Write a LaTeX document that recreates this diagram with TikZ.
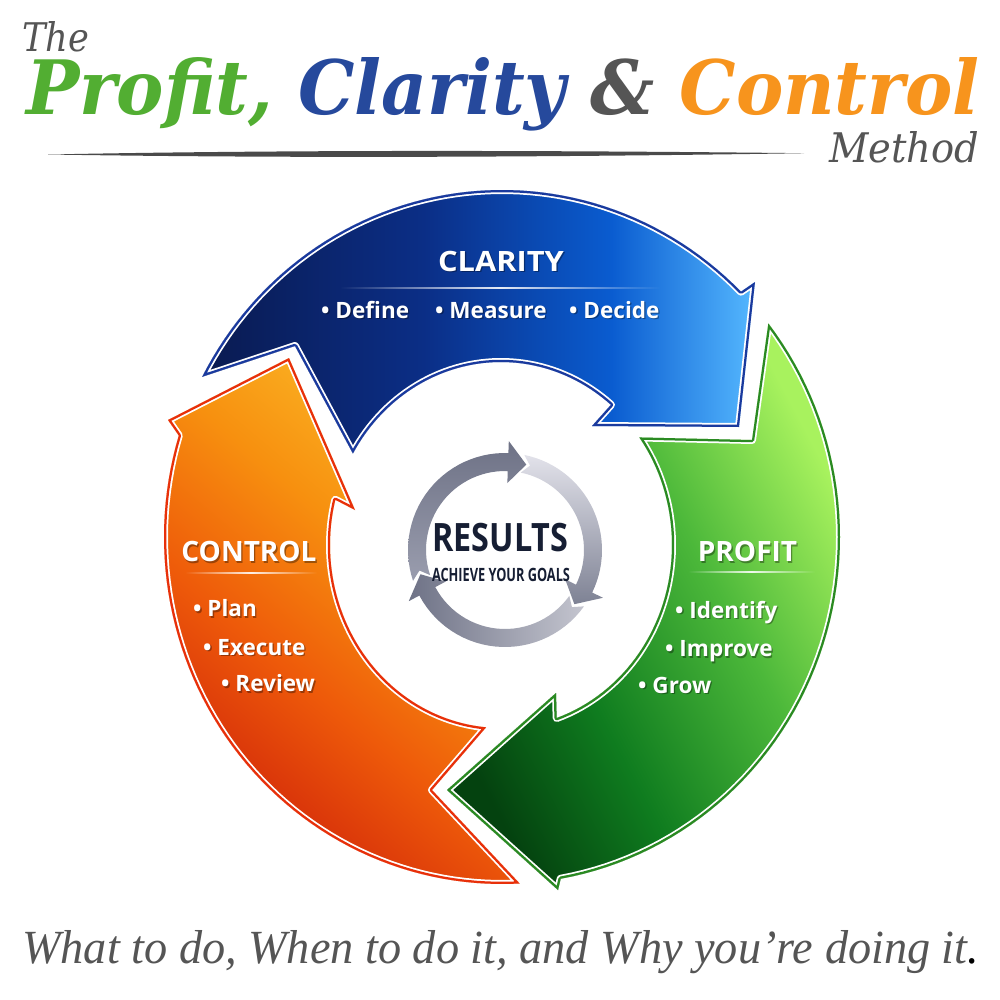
\documentclass[tikz,border=0pt]{standalone}
\usepackage{graphicx}
\usepackage{fontspec}
\setmainfont{Liberation Serif}
\newfontfamily\osans{Open Sans}
\newfontfamily\dserif{DejaVu Serif}
\usetikzlibrary{fadings}
\definecolor{tgreen}{HTML}{52AE32}
\definecolor{tblue}{HTML}{26499C}
\definecolor{tgray}{HTML}{555555}
\definecolor{torange}{HTML}{F7941D}
\definecolor{swoosh}{HTML}{4A4A4A}
\definecolor{bluebord}{HTML}{1A3A9E}
\definecolor{greenbord}{HTML}{2A8A22}
\definecolor{orangebord}{HTML}{E8300A}
\definecolor{resnavy}{HTML}{161E33}
\definecolor{bA}{HTML}{0A1A50}
\definecolor{bB}{HTML}{0B2E86}
\definecolor{bC}{HTML}{0A5CD0}
\definecolor{bD}{HTML}{55B8FF}
\definecolor{gA}{HTML}{04420F}
\definecolor{gB}{HTML}{0F7C1F}
\definecolor{gC}{HTML}{4CB83A}
\definecolor{gD}{HTML}{A8F25E}
\definecolor{oA}{HTML}{D0240A}
\definecolor{oB}{HTML}{EE5A0A}
\definecolor{oC}{HTML}{F7900F}
\definecolor{oD}{HTML}{FCBB28}
\definecolor{ringdark}{HTML}{6E7286}
\definecolor{ringmid}{HTML}{9A9DAE}
\definecolor{ringlight}{HTML}{E2E2EA}
\definecolor{ringdarkb}{HTML}{7E8294}
\definecolor{ringlightb}{HTML}{C4C5CF}
\pgfdeclarehorizontalshading{blueshade}{100bp}{color(0bp)=(bA); color(25bp)=(bA); color(45bp)=(bB); color(62bp)=(bC); color(75bp)=(bD); color(100bp)=(bD)}
\pgfdeclarehorizontalshading{greenshade}{100bp}{color(0bp)=(gA); color(25bp)=(gA); color(40bp)=(gB); color(58bp)=(gC); color(75bp)=(gD); color(100bp)=(gD)}
\pgfdeclarehorizontalshading{orangeshade}{100bp}{color(0bp)=(oA); color(25bp)=(oA); color(42bp)=(oB); color(58bp)=(oC); color(75bp)=(oD); color(100bp)=(oD)}
\tikzfading[name=fadesides, left color=transparent!100, right color=transparent!100, middle color=transparent!10]
\newcommand\pathBlue{({502+338*cos(152.5)},{537-347*sin(152.5)})
 -- plot[domain=152.5:45, samples=60] ({502+338*cos(\x)},{537-347*sin(\x)})
 -- (755,282) -- (739,427) -- (592,426)
 -- plot[domain=50:150, samples=50] ({501+171*cos(\x)},{545-183*sin(\x)})
 -- (295,346) -- cycle}
\newcommand\pathGreen{({502+338*cos(38)},{537-347*sin(38)})
 -- plot[domain=38:-80, samples=60] ({502+338*cos(\x)},{537-347*sin(\x)})
 -- (558,890) -- (447,790) -- (556,693)
 -- plot[domain=-71:36, samples=50] ({501+171*cos(\x)},{545-183*sin(\x)})
 -- (752,440) -- cycle}
\newcommand\pathOrange{({502+338*cos(-87)},{537-347*sin(-87)})
 -- plot[domain=-87:-197, samples=60] ({502+338*cos(\x)},{537-347*sin(\x)})
 -- (168,420) -- (289,358) -- (355,510)
 -- plot[domain=-194.3:-95, samples=50] ({501+171*cos(\x)},{545-183*sin(\x)})
 -- (432,790) -- cycle}
\newcommand\ringseg[2]{({505+97*cos(#2+2.5)},{550-97*sin(#2+2.5)})
 -- plot[domain={#2+2.5}:{#1+12}, samples=30] ({505+97*cos(\x)},{550-97*sin(\x)})
 -- ({505+109*cos(#1+12)},{550-109*sin(#1+12)})
 -- ({505+88*cos(#1)},{550-88*sin(#1)})
 -- ({505+67*cos(#1+12)},{550-67*sin(#1+12)})
 -- plot[domain={#1+12}:{#2+2.5}, samples=30] ({505+79*cos(\x)},{550-79*sin(\x)})
 -- ({505+88*cos(#2-2.5)},{550-88*sin(#2-2.5)}) -- cycle}
\newcommand\shtext[5]{%
 \node[#2, text=black, opacity=0.35] (#1s) at (#3+1.3,#4+1.8) {#5};
 \node[#2] (#1) at (#3,#4) {#5};}
\begin{document}
\begin{tikzpicture}[x=1pt,y=-1pt,
 lbl/.style={font=\osans\bfseries\fontsize{28}{30}\selectfont, text=white, inner sep=0pt, anchor=base},
 itm/.style={font=\osans\bfseries\fontsize{22.5}{24}\selectfont, text=white, inner sep=0pt, anchor=base west},
 ttl/.style={inner sep=0pt, anchor=base west}]
\useasboundingbox (0,0) rectangle (1000,1000);
\fill[white] (0,0) rectangle (1000,1000);

% ---------- title ----------
\node[ttl, text=tgray] (the) at (22,52) {\resizebox{67pt}{30pt}{\dserif\itshape The}};
\node[ttl] (title) at (26,115) {\resizebox{953pt}{57pt}{\dserif\bfseries\itshape
 \textcolor{tgreen}{Profit,} \textcolor{tblue}{Clarity} \textcolor{tgray}{\&} \textcolor{torange}{Control}}};
\fill[swoosh] (48,154.5) .. controls (300,149.5) and (560,150.5) .. (804,153.2)
 .. controls (560,157) and (300,158.5) .. cycle;
\node[ttl, text=tgray] (method) at (829,163) {\resizebox{150pt}{31pt}{\dserif\itshape Method}};

% ---------- arrows ----------
\shade[shading=blueshade] \pathBlue;
\begin{scope}
 \clip \pathBlue;
 \draw[white, line width=8pt, line join=round] \pathBlue;
 \draw[bluebord, line width=4.5pt, line join=round] \pathBlue;
\end{scope}
\shade[shading=greenshade, shading angle=28] \pathGreen;
\begin{scope}
 \clip \pathGreen;
 \draw[white, line width=8pt, line join=round] \pathGreen;
 \draw[greenbord, line width=4.5pt, line join=round] \pathGreen;
\end{scope}
\shade[shading=orangeshade, shading angle=50] \pathOrange;
\begin{scope}
 \clip \pathOrange;
 \draw[white, line width=8pt, line join=round] \pathOrange;
 \draw[orangebord, line width=4.5pt, line join=round] \pathOrange;
\end{scope}

% ---------- labels ----------
\shtext{clarity}{lbl}{501}{271}{\scalebox{1.1}[1]{CLARITY}}
\fill[white, path fading=fadesides] (340,287) rectangle (660,288.8);
\shtext{define}{itm}{321}{318}{• Define}
\shtext{measure}{itm}{435}{318}{• Measure}
\shtext{decide}{itm}{569}{318}{• Decide}

\shtext{control}{lbl}{249}{561.7}{CONTROL}
\fill[white, path fading=fadesides] (185,572) rectangle (317,573.8);
\shtext{plan}{itm}{193}{616.7}{• Plan}
\shtext{execute}{itm}{203}{655}{• Execute}
\shtext{review}{itm}{221}{691.7}{• Review}

\shtext{profit}{lbl}{747.5}{561.7}{PROFIT}
\fill[white, path fading=fadesides] (688,571) rectangle (815,572.8);
\shtext{identify}{itm}{675}{618}{• Identify}
\shtext{improve}{itm}{665}{656.7}{• Improve}
\shtext{grow}{itm}{638}{693}{• Grow}

% ---------- results ring ----------
\shade[top color=ringdark, bottom color=ringmid] \ringseg{76}{196};
\shade[top color=ringlight, bottom color=ringdarkb] \ringseg{-38}{76};
\shade[left color=ringdark, right color=ringlightb] \ringseg{-164}{-38};
\node[inner sep=0pt, anchor=base, text=resnavy] (results) at (500.5,551.7)
 {\resizebox{136pt}{28.3pt}{\osans\bfseries RESULTS}};
\node[inner sep=0pt, anchor=base, text=resnavy] (goals) at (501,581.7)
 {\resizebox{138pt}{13.3pt}{\osans\bfseries ACHIEVE YOUR GOALS}};

% ---------- tagline ----------
\node[ttl, text=tgray] (tagline) at (22,963)
 {\resizebox{957pt}{33pt}{\itshape What to do, When to do it, and Why you’re doing it\textcolor{black}{.}}};
\end{tikzpicture}
\end{document}
